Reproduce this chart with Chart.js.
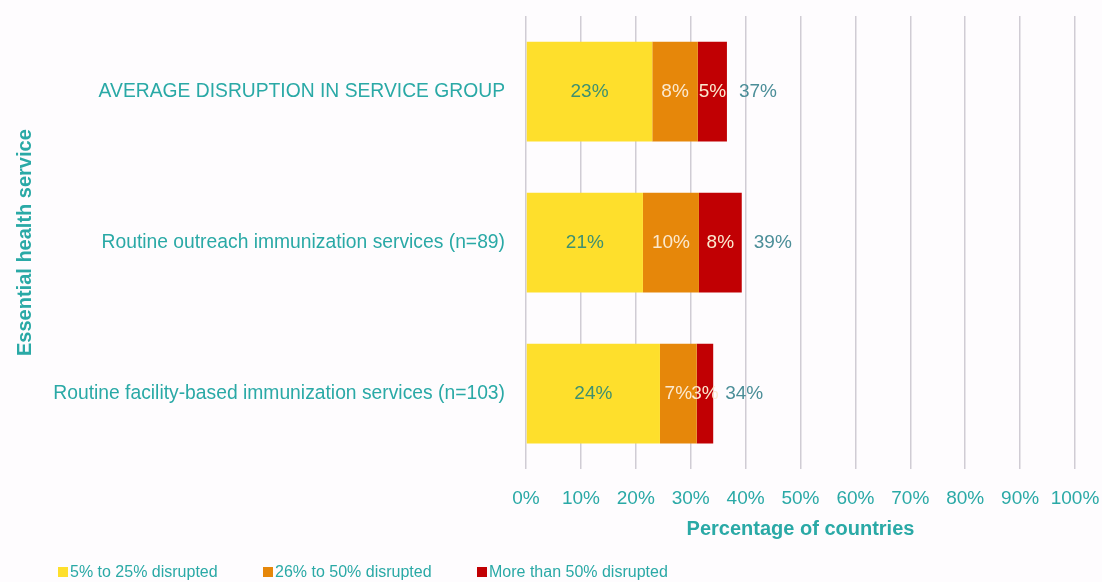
<!DOCTYPE html>
<html lang="en">
  <head>
    <meta charset="UTF-8" />
    <title>Disruption of immunization services</title>
    <script src="https://cdn.jsdelivr.net/npm/chart.js"></script>
    <style>
      body { margin: 0; background: #fefcfe; }
    </style>
  </head>
  <body>
    <canvas id="chart" width="1102" height="582"></canvas>
    <script>
      // data
      const services = [
        "AVERAGE DISRUPTION IN SERVICE GROUP",
        "Routine outreach immunization services (n=89)",
        "Routine facility-based immunization services (n=103)",
      ];
      const seriesNames = ["5% to 25% disrupted", "26% to 50% disrupted", "More than 50% disrupted"];
      const mild = [23.0, 21.3, 24.4];
      const moderate = [8.3, 10.2, 6.7];
      const severe = [5.3, 7.8, 3.0];
      const xTicks = [0, 10, 20, 30, 40, 50, 60, 70, 80, 90, 100];

      const teal = "#2aa9a6";
      const fontName = "'Liberation Sans', Arial, sans-serif";

      // segment labels + total at the end of each bar
      const labelPlugin = {
        id: "barLabels",
        afterDatasetsDraw(chart) {
          const ctx = chart.ctx;
          ctx.save();
          ctx.font = "19px " + fontName;
          ctx.textBaseline = "middle";
          ctx.textAlign = "center";
          chart.data.datasets.forEach((ds, di) => {
            const meta = chart.getDatasetMeta(di);
            meta.data.forEach((bar, i) => {
              const v = Math.round(ds.data[i]);
              ctx.fillStyle = di === 0 ? "#3e9070" : "#fbe9cf";
              ctx.fillText(v + "%", (bar.base + bar.x) / 2, bar.y);
            });
          });
          const last = chart.getDatasetMeta(chart.data.datasets.length - 1);
          ctx.textAlign = "left";
          ctx.fillStyle = "#4b8e98";
          last.data.forEach((bar, i) => {
            const total = Math.round(mild[i] + moderate[i] + severe[i]);
            ctx.fillText(total + "%", bar.x + 12, bar.y);
          });
          ctx.restore();
        },
      };

      // legend drawn along the bottom
      const legendPlugin = {
        id: "bottomLegend",
        afterDraw(chart) {
          const ctx = chart.ctx;
          const xs = [58, 263, 477];
          ctx.save();
          ctx.font = "16px " + fontName;
          ctx.textBaseline = "middle";
          chart.data.datasets.forEach((ds, i) => {
            ctx.fillStyle = ds.backgroundColor;
            ctx.fillRect(xs[i], 567, 10, 10);
            ctx.fillStyle = teal;
            ctx.fillText(ds.label, xs[i] + 12, 573);
          });
          ctx.restore();
        },
      };

      const ctx = document.getElementById("chart").getContext("2d");
      new Chart(ctx, {
        type: "bar",
        data: {
          labels: services,
          datasets: [
            { label: seriesNames[0], data: mild, backgroundColor: "#fedf2c" },
            { label: seriesNames[1], data: moderate, backgroundColor: "#e6870a" },
            { label: seriesNames[2], data: severe, backgroundColor: "#c10003" },
          ],
        },
        options: {
          indexAxis: "y",
          responsive: false,
          animation: false,
          categoryPercentage: 1,
          barPercentage: 0.66,
          layout: { padding: { top: 16, bottom: 41, left: 0, right: 0 } },
          plugins: { legend: { display: false }, tooltip: { enabled: false } },
          scales: {
            x: {
              stacked: true,
              min: 0,
              max: 100,
              afterBuildTicks(scale) {
                scale.ticks = xTicks.map((v) => ({ value: v }));
              },
              afterFit(scale) {
                scale.paddingRight = 27;
                scale.paddingLeft = 0;
              },
              grid: { color: "#d0ccd4", lineWidth: 1.5, drawTicks: false },
              border: { display: false },
              ticks: {
                color: teal,
                padding: 18,
                font: { size: 19, family: fontName },
                callback: (v) => v + "%",
              },
              title: {
                display: true,
                text: "Percentage of countries",
                color: teal,
                font: { size: 20, weight: "bold", family: fontName },
                padding: { top: -11, bottom: 0 },
              },
            },
            y: {
              stacked: true,
              grid: { display: false, drawTicks: false },
              border: { display: false },
              afterFit(scale) {
                scale.width = 526;
                scale.paddingTop = 0;
                scale.paddingBottom = 0;
              },
              ticks: {
                color: teal,
                padding: 21,
                font: { size: 19.3, family: fontName },
              },
              title: {
                display: true,
                text: "Essential health service",
                color: teal,
                font: { size: 20, weight: "bold", family: fontName },
                padding: { top: 13, bottom: 0 },
              },
            },
          },
        },
        plugins: [labelPlugin, legendPlugin],
      });
    </script>
  </body>
</html>
